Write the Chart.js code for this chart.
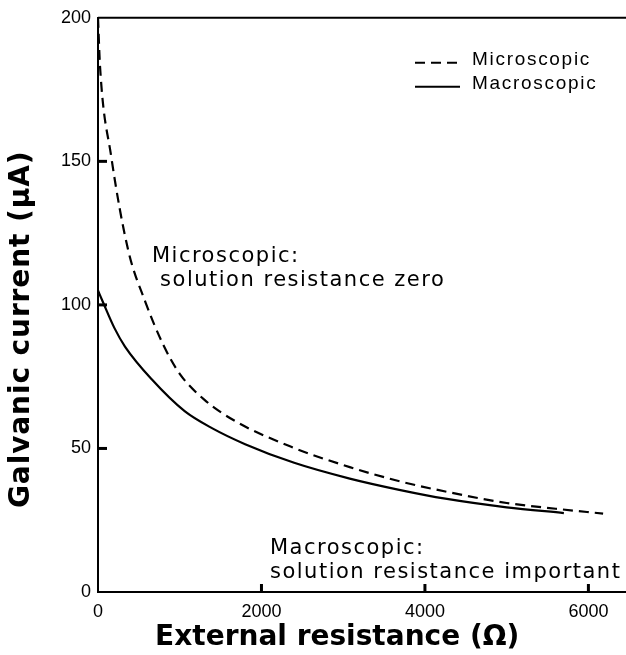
<!DOCTYPE html>
<html>
<head>
    <title>Galvanic current vs external resistance</title>
    <script src="https://cdn.jsdelivr.net/npm/chart.js"></script>
    <style>
        html, body {
            margin: 0;
            padding: 0;
            background: #fff;
        }
        #wrap {
            width: 626px;
            height: 655px;
        }
    </style>
</head>
<body>
    <div id="wrap"><canvas id="myChart" width="626" height="655"></canvas></div>

    <script>
        // external resistance (ohm) and galvanic current (uA) for each curve
        const microR = [0, 25, 160, 370, 580, 800, 1000, 1300, 1680, 2370, 3080, 3700, 4250, 5000, 5600, 6180];
        const microI = [200, 183, 152, 119, 101, 86, 76, 67, 59.5, 50.5, 43.5, 38.5, 35, 31, 29, 27.3];
        const macroR = [0, 60, 200, 330, 660, 1060, 1400, 1800, 2400, 3080, 3700, 4250, 5000, 5700];
        const macroI = [105, 101, 92, 85.5, 74, 63, 57, 51.5, 45, 39.5, 35.5, 32.5, 29.5, 27.5];

        const seriesNames = ['Microscopic', 'Macroscopic'];
        const xTicks = [0, 2000, 4000, 6000];
        const yTicks = [0, 50, 100, 150, 200];
        const xTitle = 'External resistance (Ω)';
        const yTitle = 'Galvanic current (μA)';
        const microNote = ['Microscopic:', ' solution resistance zero'];
        const macroNote = ['Macroscopic:', 'solution resistance important'];

        const toPoints = (xs, ys) => xs.map((x, i) => ({x: x, y: ys[i]}));

        // axis frame: top border plus inward tick marks
        const framePlugin = {
            id: 'frame',
            afterDraw(chart) {
                const {ctx, chartArea} = chart;
                const xs = chart.scales.x, ys = chart.scales.y;
                ctx.save();
                ctx.strokeStyle = '#000';
                ctx.lineWidth = 2;
                ctx.beginPath();
                ctx.moveTo(chartArea.left, chartArea.top);
                ctx.lineTo(chartArea.right, chartArea.top);
                ctx.stroke();
                ctx.lineWidth = 3;
                xTicks.slice(1).forEach(v => {
                    const px = xs.getPixelForValue(v);
                    ctx.beginPath();
                    ctx.moveTo(px, chartArea.bottom);
                    ctx.lineTo(px, chartArea.bottom - 8);
                    ctx.stroke();
                });
                yTicks.slice(1, -1).forEach(v => {
                    const py = ys.getPixelForValue(v);
                    ctx.beginPath();
                    ctx.moveTo(chartArea.left, py);
                    ctx.lineTo(chartArea.left + 9, py);
                    ctx.stroke();
                });
                ctx.restore();
            }
        };

        // bold axis titles, centred a little off the plot middle
        const titlesPlugin = {
            id: 'titles',
            afterDraw(chart) {
                const {ctx, chartArea} = chart;
                const xs = chart.scales.x, ys = chart.scales.y;
                ctx.save();
                ctx.font = 'bold 28px "DejaVu Sans", sans-serif';
                ctx.fillStyle = '#000';
                ctx.textAlign = 'center';
                ctx.textBaseline = 'middle';
                const cx = (xs.getPixelForValue(xTicks[0]) + xs.getPixelForValue(xTicks[xTicks.length - 1])) / 2 - 6;
                ctx.fillText(xTitle, cx, chartArea.bottom + 46);
                ctx.letterSpacing = '0.9px';
                ctx.translate(22, ys.getPixelForValue(91.5));
                ctx.rotate(-Math.PI / 2);
                ctx.fillText(yTitle, 0, 0);
                ctx.restore();
            }
        };

        // legend in the upper right corner
        const keyPlugin = {
            id: 'key',
            afterDraw(chart) {
                const {ctx, chartArea} = chart;
                ctx.save();
                ctx.font = '19px "Liberation Sans", Arial, sans-serif';
                ctx.letterSpacing = '1.7px';
                ctx.textBaseline = 'middle';
                ctx.fillStyle = '#000';
                chart.data.datasets.forEach((ds, i) => {
                    const y = chartArea.top + 42 + i * 24;
                    const x0 = chartArea.left + 317;
                    ctx.strokeStyle = '#000';
                    ctx.lineWidth = 2;
                    ctx.setLineDash(ds.borderDash || []);
                    ctx.beginPath();
                    ctx.moveTo(x0, y + 3);
                    ctx.lineTo(x0 + 45, y + 3);
                    ctx.stroke();
                    ctx.setLineDash([]);
                    ctx.fillText(ds.label, x0 + 57, y);
                });
                ctx.restore();
            }
        };

        // curve descriptions placed in data coordinates
        const notesPlugin = {
            id: 'notes',
            afterDraw(chart) {
                const {ctx} = chart;
                const xs = chart.scales.x, ys = chart.scales.y;
                ctx.save();
                ctx.font = '21px "DejaVu Sans", sans-serif';
                ctx.letterSpacing = '1.5px';
                ctx.textBaseline = 'middle';
                ctx.fillStyle = '#000';
                const put = (lines, rx, iy) => {
                    const x = xs.getPixelForValue(rx);
                    const y = ys.getPixelForValue(iy);
                    lines.forEach((t, k) => ctx.fillText(t, x, y + k * 24));
                };
                put(microNote, 660, 116.7);
                put(macroNote, 2104, 15.3);
                ctx.restore();
            }
        };

        const tickFont = {family: '"Liberation Sans", Arial, sans-serif', size: 18};

        const ctx = document.getElementById('myChart').getContext('2d');
        new Chart(ctx, {
            type: 'line',
            data: {
                datasets: [{
                    label: seriesNames[0],
                    data: toPoints(microR, microI),
                    borderColor: '#000',
                    borderWidth: 2.2,
                    borderDash: [10, 6],
                    pointRadius: 0,
                    cubicInterpolationMode: 'monotone',
                    fill: false
                }, {
                    label: seriesNames[1],
                    data: toPoints(macroR, macroI),
                    borderColor: '#000',
                    borderWidth: 2.2,
                    pointRadius: 0,
                    cubicInterpolationMode: 'monotone',
                    fill: false
                }]
            },
            options: {
                responsive: false,
                animation: false,
                layout: {padding: {top: 16, right: 0, left: 0, bottom: 0}},
                plugins: {
                    legend: {display: false},
                    tooltip: {enabled: false}
                },
                scales: {
                    x: {
                        type: 'linear',
                        min: 0,
                        max: 6460,
                        afterBuildTicks: s => { s.ticks = xTicks.map(v => ({value: v})); },
                        afterFit: s => { s.height = 63; },
                        grid: {display: false, drawTicks: false},
                        border: {display: true, color: '#000', width: 2},
                        ticks: {
                            padding: 9,
                            color: '#000',
                            maxRotation: 0,
                            callback: v => String(v),
                            font: tickFont
                        }
                    },
                    y: {
                        min: 0,
                        max: 200,
                        afterBuildTicks: s => { s.ticks = yTicks.map(v => ({value: v})); },
                        afterFit: s => { s.width = 98; },
                        grid: {display: false, drawTicks: false},
                        border: {display: true, color: '#000', width: 2},
                        ticks: {
                            padding: 7,
                            color: '#000',
                            callback: v => String(v),
                            font: tickFont
                        }
                    }
                }
            },
            plugins: [framePlugin, titlesPlugin, keyPlugin, notesPlugin]
        });
    </script>
</body>
</html>
